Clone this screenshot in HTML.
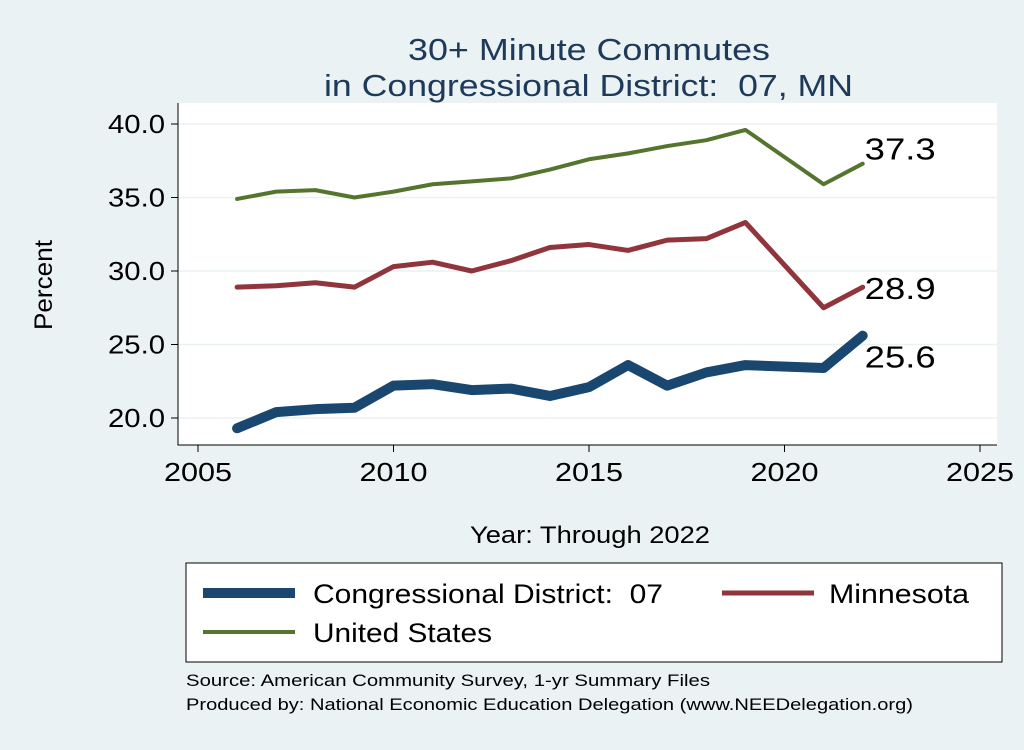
<!DOCTYPE html>
<html><head><meta charset="utf-8"><style>
body{margin:0;background:#eaf2f3;font-family:"Liberation Sans",sans-serif;}
svg text{font-family:"Liberation Sans",sans-serif;white-space:pre;}
</style></head><body>
<svg id="chart" width="1024" height="745">
<rect x="0" y="0" width="1024" height="745" fill="#eaf2f3"/>
<text x="408" y="60" font-size="31" fill="#1e3a5a" textLength="362" lengthAdjust="spacingAndGlyphs">30+ Minute Commutes</text>
<text x="324" y="96" font-size="31" fill="#1e3a5a" textLength="529" lengthAdjust="spacingAndGlyphs">in Congressional District:  07, MN</text>
<rect x="178" y="103" width="819" height="342" fill="#fff"/>
<g id="grid"></g><g id="axes"></g><g id="series"></g>
<text x="52" y="330" font-size="25" textLength="90" lengthAdjust="spacingAndGlyphs" transform="rotate(-90 52 330)">Percent</text>
<text x="470" y="543" font-size="24" textLength="240" lengthAdjust="spacingAndGlyphs">Year: Through 2022</text>
<g>
<rect x="186" y="563" width="816" height="99" fill="#fff" stroke="#000" stroke-width="1"/>
<line x1="203" y1="593" x2="295" y2="593" stroke="#1a476f" stroke-width="10"/>
<text x="313" y="603" font-size="27" textLength="350" lengthAdjust="spacingAndGlyphs">Congressional District:  07</text>
<line x1="722" y1="593" x2="814" y2="593" stroke="#90353b" stroke-width="5"/>
<text x="829" y="603" font-size="27" textLength="140" lengthAdjust="spacingAndGlyphs">Minnesota</text>
<line x1="203" y1="632" x2="295" y2="632" stroke="#55752f" stroke-width="4"/>
<text x="313" y="642" font-size="27" textLength="179" lengthAdjust="spacingAndGlyphs">United States</text>
</g>
<text x="186" y="686" font-size="17" textLength="524" lengthAdjust="spacingAndGlyphs">Source: American Community Survey, 1-yr Summary Files</text>
<text x="186" y="710" font-size="17" textLength="727" lengthAdjust="spacingAndGlyphs">Produced by: National Economic Education Delegation (www.NEEDelegation.org)</text>
</svg>
<script>
const years=[2006,2007,2008,2009,2010,2011,2012,2013,2014,2015,2016,2017,2018,2019,2021,2022];
const usVals=[34.9,35.4,35.5,35.0,35.4,35.9,36.1,36.3,36.9,37.6,38.0,38.5,38.9,39.6,35.9,37.3];
const mnVals=[28.9,29.0,29.2,28.9,30.3,30.6,30.0,30.7,31.6,31.8,31.4,32.1,32.2,33.3,27.5,28.9];
const cdVals=[19.3,20.4,20.6,20.7,22.2,22.3,21.9,22.0,21.5,22.1,23.6,22.2,23.1,23.6,23.4,25.6];
const xTicks=[2005,2010,2015,2020,2025];
const yTicks=[20,25,30,35,40];
const NS="http://www.w3.org/2000/svg";
const xs=v=>198+(v-2005)*(782/20);
const ys=v=>418-(v-20)*(294/20);
function mk(tag,attrs,parent){const e=document.createElementNS(NS,tag);for(const k in attrs)e.setAttribute(k,attrs[k]);document.getElementById(parent).appendChild(e);return e;}
yTicks.forEach(t=>{
 const g=mk('line',{x1:178,x2:997,y1:ys(t),y2:ys(t),stroke:'#eaf2f3','stroke-width':1.5},'grid');
 
 
 const tk=mk('line',{x1:171,x2:178,y1:ys(t),y2:ys(t),stroke:'#000'},'axes');
 
 
 const l=mk('text',{x:108,y:ys(t)+9,'font-size':26,textLength:57,lengthAdjust:'spacingAndGlyphs'},'axes');l.textContent=t.toFixed(1);
 
 
});
xTicks.forEach(t=>{
 const tk=mk('line',{x1:xs(t),x2:xs(t),y1:445,y2:452,stroke:'#000'},'axes');
 
 
 const l=mk('text',{x:xs(t)-34,y:481,'font-size':26,textLength:68,lengthAdjust:'spacingAndGlyphs'},'axes');l.textContent=t;
 
 
});
const ax=mk('path',{d:'M178 103V445H997',fill:'none',stroke:'#000','stroke-width':1},'axes');


function series(vals,color,w,name,dy){
 const p=mk('polyline',{points:years.map((y,i)=>xs(y)+','+ys(vals[i])).join(' '),fill:'none',stroke:color,'stroke-width':w,'stroke-linejoin':'round','stroke-linecap':'round'},'series');
 
 
 const n=vals.length-1;
 const t=mk('text',{x:xs(years[n])+2,y:ys(vals[n])+dy,'font-size':31,textLength:71,lengthAdjust:'spacingAndGlyphs'},'series');t.textContent=vals[n].toFixed(1);
 
 
}
series(usVals,'#55752f',4,'us-line',-4);
series(mnVals,'#90353b',5,'minnesota-line',12);
series(cdVals,'#1a476f',10,'district-line',32);
</script>
</body></html>
